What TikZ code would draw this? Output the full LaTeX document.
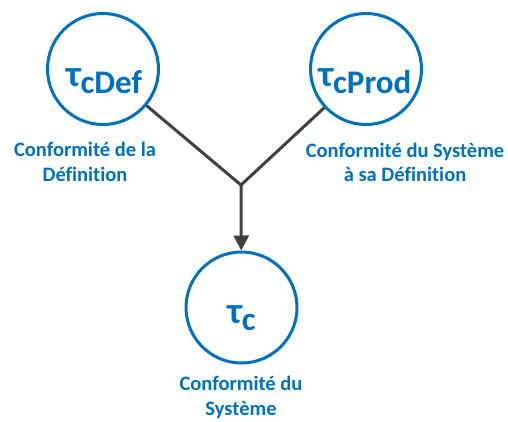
\documentclass[tikz,border=0pt]{standalone}
\usepackage{fontspec}
\setmainfont[Ligatures=NoCommon]{Carlito}
\usetikzlibrary{arrows.meta}
\definecolor{cblue}{HTML}{0070C0}
\definecolor{cgray}{HTML}{404040}
\newcommand{\taucsym}[1]{{\fontsize{37}{37}\selectfont τ}{\fontsize{33}{33}\selectfont\raisebox{-7pt}{#1}}}
\begin{document}
\begin{tikzpicture}[x=1pt,y=-1pt,
  ring/.style={circle,draw=cblue,line width=3pt,minimum size=111pt,inner sep=0pt},
  sym/.style={text=cblue,font=\bfseries,anchor=base,inner sep=0pt},
  lab/.style={text=cblue,font=\bfseries\fontsize{20.5}{24.5}\selectfont,align=center,inner sep=0pt},
  conn/.style={draw=cgray,line width=3pt,line join=miter}]
\useasboundingbox (0,0) rectangle (508,421);
\node[ring] (def) at (103,69) {};
\node[ring] (prod) at (366,69) {};
\node[ring] (sys) at (241.5,307.5) {};
\node[sym] (tdef) at (104,86) {\taucsym{cDef}};
\node[sym] (tprod) at (365,86) {\taucsym{cProd}};
\node[sym] (tsys) at (241.5,323) {\taucsym{c}};
\coordinate (j) at (241,185);
\draw[conn] (def) -- (j) -- (prod);
\draw[conn,-{Triangle[length=15pt,width=15pt]}] (j) -- (sys);
\node[lab] (ldef) at (85,162) {Conformité de la\\Définition};
\node[lab] (lprod) at (405,162.5) {Conformité du Système\\à sa Définition};
\node[lab] (lsys) at (241,397.5) {Conformité du\\Système};
\end{tikzpicture}
\end{document}
